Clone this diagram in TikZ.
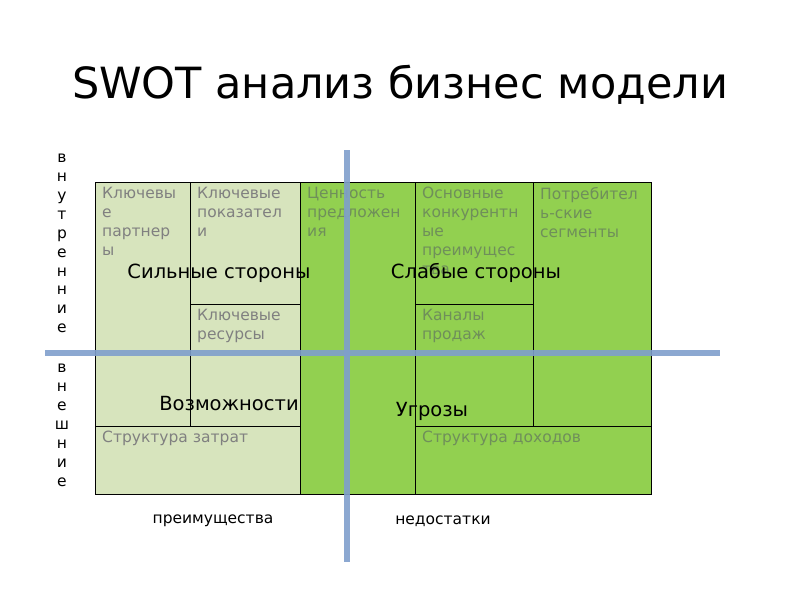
\documentclass[tikz,border=0pt]{standalone}
\usepackage{fontspec}
\setmainfont{DejaVu Sans}
\definecolor{lg}{HTML}{D7E4BD}
\definecolor{dg}{HTML}{92D050}
\definecolor{bl}{HTML}{7F9FCC}
\definecolor{tg}{HTML}{808080}
\definecolor{tdg}{HTML}{6F8F5A}
\begin{document}
\begin{tikzpicture}[x=1pt,y=-1pt,
 cell/.style={draw=black,line width=0.8pt},
 ct/.style={anchor=north west,align=left,font=\fontsize{15.5}{19}\selectfont,inner sep=0pt},
 big/.style={font=\fontsize{19.5}{22}\selectfont,text=black},
 vt/.style={font=\fontsize{15.5}{18.9}\selectfont,align=center,anchor=north,inner sep=0pt}]
\useasboundingbox (0,0) rectangle (800,600);
\node (title) at (400,85) {\fontsize{43}{50}\selectfont SWOT анализ бизнес модели};
% cells
\fill[lg] (95,182) rectangle (300,494);
\fill[dg] (300,182) rectangle (651,494);
\draw[cell] (95,182) rectangle (190,426);
\draw[cell] (190,182) rectangle (300,304);
\draw[cell] (190,304) rectangle (300,426);
\draw[cell] (300,182) rectangle (415,494);
\draw[cell] (415,182) rectangle (533,304);
\draw[cell] (415,304) rectangle (533,426);
\draw[cell] (533,182) rectangle (651,426);
\draw[cell] (95,426) rectangle (300,494);
\draw[cell] (415,426) rectangle (651,494);
\node[ct,text=tg] (c1) at (102,187) {Ключевы\\е\\партнер\\ы};
\node[ct,text=tg] (c2) at (197,187) {Ключевые\\показател\\и};
\node[ct,text=tg] (c3) at (197,309) {Ключевые\\ресурсы};
\node[ct,text=tdg] (c4) at (307,187) {Ценность\\предложен\\ия};
\node[ct,text=tdg] (c5) at (422,187) {Основные\\конкурентн\\ые\\преимущес\\тва};
\node[ct,text=tdg] (c6) at (540,187) {Потребител\\ь-ские\\сегменты};
\node[ct,text=tdg] (c7) at (422,309) {Каналы\\продаж};
\node[ct,text=tg] (c8) at (102,431) {Структура затрат};
\node[ct,text=tdg] (c9) at (422,431) {Структура доходов};
\node[big] (s) at (219,273) {Сильные стороны};
\node[big] (w) at (476,273) {Слабые стороны};
\node[big] (o) at (229,404) {Возможности};
\node[big] (t) at (432,411) {Угрозы};
% axes
\draw[bl,opacity=0.9,line width=6pt] (347,150) -- (347,562);
\draw[bl,opacity=0.9,line width=6pt] (45,353) -- (720,353);
\node[vt] (in) at (62,154) {в\\н\\у\\т\\р\\е\\н\\н\\и\\е};
\node[vt] (ex) at (62,364) {в\\н\\е\\ш\\н\\и\\е};
\node[font=\fontsize{15.5}{18}\selectfont] (p) at (213,521) {преимущества};
\node[font=\fontsize{15.5}{18}\selectfont] (n) at (443,521) {недостатки};
\end{tikzpicture}
\end{document}
